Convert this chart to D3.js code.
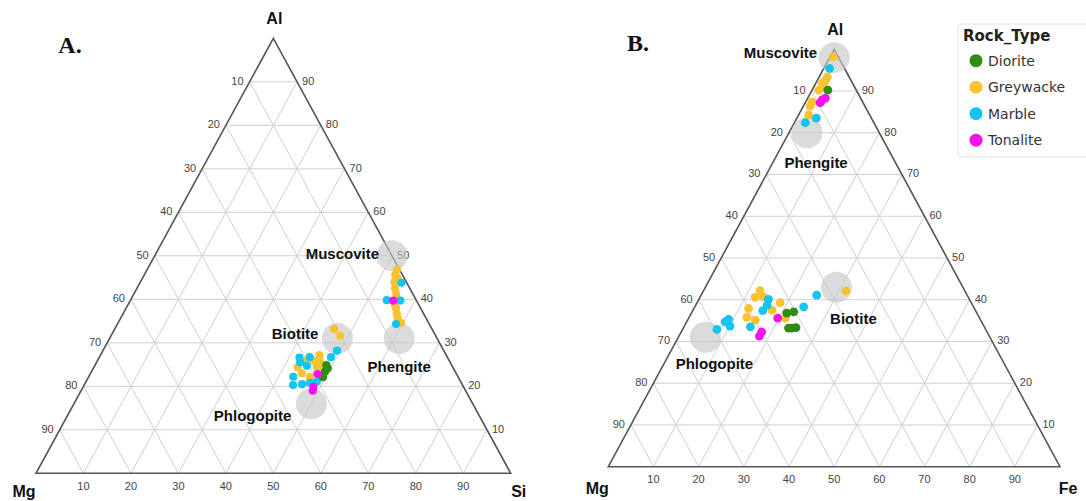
<!DOCTYPE html>
<html>
<head>
<meta charset="utf-8">
<script src="https://cdn.jsdelivr.net/npm/d3@7"></script>
<style>
  body { margin: 0; background: #fff; }
  svg { display: block; }
</style>
</head>
<body>
<svg id="chart" width="1086" height="501"></svg>
<script>

// ---- data ----
const rockTypes = ["Diorite", "Greywacke", "Marble", "Tonalite"];
const rockColors = ["#2f8c14", "#f8c232", "#16c4f0", "#f514ee"];
const gridTicks = [10, 20, 30, 40, 50, 60, 70, 80, 90];

// panel A: [Mg, Si, Al] in %
const greywackeA = [
  [0.5, 52.6, 46.9], [1.5, 52.9, 45.6], [2.5, 53.5, 44.0], [3.1, 54.4, 42.5],
  [3.5, 55.3, 41.2], [1.4, 53.8, 44.8], [5.2, 56.9, 37.9], [5.7, 57.7, 36.6],
  [6.0, 58.4, 35.6], [5.8, 59.6, 34.6], [5.0, 56.3, 38.7],
  [20.6, 46.2, 33.2], [20.1, 48.3, 31.6],
  [32.7, 42.9, 24.4], [32.5, 44.5, 23.0], [28.6, 45.5, 25.9], [27.3, 46.7, 26.0],
  [28.6, 46.9, 24.5], [31.2, 46.6, 22.2], [30.4, 43.9, 25.7], [27.5, 48.0, 24.5],
  [26.7, 46.1, 27.2]
];
const marbleA = [
  [1.1, 55.1, 43.8], [6.2, 54.0, 39.8], [3.4, 56.9, 39.7], [7.0, 58.7, 34.3],
  [31.6, 42.9, 25.5], [31.2, 42.2, 26.6], [29.0, 44.3, 26.7], [24.5, 48.8, 26.7],
  [22.5, 49.3, 28.2], [34.7, 43.1, 22.2], [35.7, 44.0, 20.3], [33.7, 45.8, 20.5],
  [31.9, 47.3, 20.8], [30.3, 48.6, 21.1], [30.6, 44.7, 24.7]
];
const dioriteA = [
  [26.4, 48.7, 24.9], [27.4, 49.2, 23.4], [28.5, 49.4, 22.1], [26.5, 49.4, 24.1]
];
const tonaliteA = [
  [4.9, 55.4, 39.7], [29.3, 47.9, 22.8], [32.2, 48.8, 19.0], [31.6, 48.5, 19.9]
];
const mineralsA = [
  ["Muscovite", 0, 50, 50], ["Phengite", 8, 61, 31],
  ["Biotite", 21, 48, 31], ["Phlogopite", 34, 50, 16]
];

// panel B: [Mg, Fe, Al] in %
const greywackeB = [
  [1.1, 0.7, 98.2], [5.6, 1.8, 92.6], [6.7, 1.4, 91.9], [6.8, 2.2, 91.0],
  [8.3, 1.5, 90.2], [11.2, 1.4, 87.4], [12.1, 1.5, 86.4], [13.5, 2.2, 84.3],
  [4.8, 1.8, 93.4],
  [45.3, 12.5, 42.2], [47.2, 12.2, 40.6], [45.3, 14.0, 40.7], [50.0, 12.1, 37.9],
  [51.4, 12.8, 35.8], [49.9, 15.0, 35.1], [45.0, 17.5, 37.5], [42.3, 18.4, 39.3],
  [43.0, 21.4, 35.6], [26.3, 31.6, 42.1]
];
const marbleB = [
  [3.3, 1.3, 95.4], [12.2, 4.3, 83.5], [15.2, 2.4, 82.4],
  [59.5, 7.6, 32.9], [56.8, 8.5, 34.7], [55.7, 9.0, 35.3], [56.2, 10.1, 33.7],
  [51.8, 14.7, 33.5], [47.1, 15.5, 37.4], [44.5, 15.4, 40.1], [45.5, 15.8, 38.7],
  [37.6, 24.1, 38.3], [33.3, 25.6, 41.1]
];
const dioriteB = [
  [6.3, 3.5, 90.2], [42.1, 21.1, 36.8], [40.4, 22.5, 37.1], [42.8, 24.0, 33.2],
  [41.8, 24.9, 33.3], [43.5, 23.3, 33.2]
];
const tonaliteB = [
  [8.7, 3.4, 87.9], [7.8, 3.9, 88.3], [9.5, 3.3, 87.2],
  [44.7, 19.7, 35.6], [49.9, 17.8, 32.3], [50.9, 17.8, 31.3]
];
const mineralsB = [
  ["Muscovite", 1, 1, 98], ["Phengite", 16, 4, 80],
  ["Biotite", 28, 29, 43], ["Phlogopite", 63, 6, 31]
];

// ---- layout / style ----
const svg = d3.select("#chart");
const FONT = "'Liberation Sans', Arial, sans-serif";

const labelStyleA = {
  Muscovite:  { dx: -13, dy: -2, anchor: "end" },
  Phengite:   { dx: 0, dy: 28, anchor: "middle" },
  Biotite:    { dx: -19, dy: -5, anchor: "end" },
  Phlogopite: { dx: -20, dy: 12, anchor: "end" }
};
const labelStyleB = {
  Muscovite:  { dx: -17, dy: -5, anchor: "end" },
  Phengite:   { dx: 9, dy: 30, anchor: "middle" },
  Biotite:    { dx: 17, dy: 32, anchor: "middle" },
  Phlogopite: { dx: 9, dy: 26, anchor: "middle" }
};

function drawPanel(cfg) {
  const g = svg.append("g");
  // x: position along base from (right component + half of Al); y: Al
  const x = d3.scaleLinear().domain([0, 100]).range([cfg.left, cfg.right]);
  const y = d3.scaleLinear().domain([0, 100]).range([cfg.base, cfg.apex]);
  const px = (r, al) => x(r + al / 2);
  const py = al => y(al);

  // grid
  const grid = [];
  gridTicks.forEach(t => {
    grid.push([[0, t], [100 - t, t]]);        // Al constant
    grid.push([[t, 0], [t, 100 - t]]);        // right component constant
    grid.push([[100 - t, 0], [0, 100 - t]]);  // Mg constant
  });
  g.append("g").selectAll("line")
    .data(grid)
    .enter().append("line")
      .attr("x1", d => px(d[0][0], d[0][1]))
      .attr("y1", d => py(d[0][1]))
      .attr("x2", d => px(d[1][0], d[1][1]))
      .attr("y2", d => py(d[1][1]))
      .attr("stroke", "#cfcfcf")
      .attr("stroke-width", 1);

  // outline
  g.append("path")
    .attr("d", d3.line()([[px(0, 0), py(0)], [px(100, 0), py(0)], [px(0, 100), py(100)]]) + "Z")
    .attr("fill", "none")
    .attr("stroke", "#555")
    .attr("stroke-width", 1.6);

  // tick labels
  const tl = g.append("g")
    .attr("font-family", FONT)
    .attr("font-size", 11)
    .attr("fill", "#444");
  tl.selectAll(".tl").data(gridTicks).enter().append("text")
    .attr("x", t => px(0, 100 - t) - 6)
    .attr("y", t => py(100 - t) - 1)
    .attr("dy", "0.35em")
    .attr("text-anchor", "end")
    .text(t => t);
  tl.selectAll(".tr").data(gridTicks).enter().append("text")
    .attr("x", t => px(100 - t, t) + 5)
    .attr("y", t => py(t) - 1)
    .attr("dy", "0.35em")
    .attr("text-anchor", "start")
    .text(t => t);
  tl.selectAll(".tb").data(gridTicks).enter().append("text")
    .attr("x", t => px(t, 0))
    .attr("y", py(0) + cfg.bottomGap)
    .attr("dy", "0.35em")
    .attr("text-anchor", "middle")
    .text(t => t);

  // corner labels
  const cl = g.append("g")
    .attr("font-family", FONT)
    .attr("font-size", 16)
    .attr("font-weight", "bold")
    .attr("fill", "#111");
  cl.append("text").attr("x", px(0, 100) + 1).attr("y", py(100) - 20)
    .attr("dy", "0.35em").attr("text-anchor", "middle").text("Al");
  cl.append("text").attr("x", px(0, 0) + cfg.mgDx).attr("y", py(0) + cfg.cornerGap)
    .attr("dy", "0.35em").attr("text-anchor", "middle").text("Mg");
  cl.append("text").attr("x", px(100, 0) + 8).attr("y", py(0) + cfg.cornerGap)
    .attr("dy", "0.35em").attr("text-anchor", "middle").text(cfg.rightName);

  // panel letter
  g.append("text")
    .attr("x", cfg.letterX).attr("y", cfg.letterY)
    .attr("dy", "0.35em")
    .attr("text-anchor", "middle")
    .attr("font-family", "'Liberation Serif', 'Times New Roman', serif")
    .attr("font-size", 24)
    .attr("font-weight", "bold")
    .attr("fill", "#111")
    .text(cfg.letter);

  // mineral end-member circles
  g.append("g").selectAll("circle")
    .data(cfg.minerals)
    .enter().append("circle")
      .attr("cx", d => px(d[2], d[3]))
      .attr("cy", d => py(d[3]))
      .attr("r", 15.5)
      .attr("fill", "#c8c8c8")
      .attr("fill-opacity", 0.65);

  // samples
  const series = cfg.series;
  const drawOrder = [1, 2, 0, 3];
  drawOrder.forEach(i => {
    g.append("g").selectAll("circle")
      .data(series[i])
      .enter().append("circle")
        .attr("cx", d => px(d[1], d[2]))
        .attr("cy", d => py(d[2]))
        .attr("r", cfg.dotR)
        .attr("fill", rockColors[i]);
  });

  // mineral labels
  g.append("g")
    .attr("font-family", FONT)
    .attr("font-size", 15)
    .attr("font-weight", "bold")
    .attr("fill", "#111")
    .selectAll("text")
    .data(cfg.minerals)
    .enter().append("text")
      .attr("x", d => px(d[2], d[3]) + cfg.labelStyle[d[0]].dx)
      .attr("y", d => py(d[3]) + cfg.labelStyle[d[0]].dy)
      .attr("dy", "0.35em")
      .attr("text-anchor", d => cfg.labelStyle[d[0]].anchor)
      .text(d => d[0]);
}

drawPanel({
  left: 36, right: 510.7, base: 473.3, apex: 38.3,
  bottomGap: 13, cornerGap: 18, mgDx: -12, rightName: "Si",
  letter: "A.", letterX: 70, letterY: 45,
  series: [dioriteA, greywackeA, marbleA, tonaliteA],
  minerals: mineralsA, labelStyle: labelStyleA, dotR: 4.1
});

drawPanel({
  left: 608.3, right: 1060, base: 466.7, apex: 49.3,
  bottomGap: 12, cornerGap: 22, mgDx: -11, rightName: "Fe",
  letter: "B.", letterX: 638, letterY: 43,
  series: [dioriteB, greywackeB, marbleB, tonaliteB],
  minerals: mineralsB, labelStyle: labelStyleB, dotR: 4.4
});

// legend (panel B)
const legend = svg.append("g").attr("transform", "translate(958,24)");
legend.append("rect")
  .attr("x", 0).attr("y", 0)
  .attr("width", 150).attr("height", 133)
  .attr("rx", 3)
  .attr("fill", "#fff")
  .attr("stroke", "#e2e2e2");
legend.append("text")
  .attr("x", 5).attr("y", 12)
  .attr("dy", "0.35em")
  .attr("font-family", "'DejaVu Sans', sans-serif")
  .attr("font-size", 15)
  .attr("font-weight", "bold")
  .attr("fill", "#222")
  .text("Rock_Type");
const items = legend.selectAll(".item")
  .data(rockTypes)
  .enter().append("g")
    .attr("transform", (d, i) => "translate(18," + (36.7 + i * 26.5) + ")");
items.append("circle")
  .attr("r", 6.5)
  .attr("fill", (d, i) => rockColors[i]);
items.append("text")
  .attr("x", 12)
  .attr("dy", "0.35em")
  .attr("font-family", "'DejaVu Sans', sans-serif")
  .attr("font-size", 14)
  .attr("fill", "#333")
  .text(d => d);

</script>
</body>
</html>
